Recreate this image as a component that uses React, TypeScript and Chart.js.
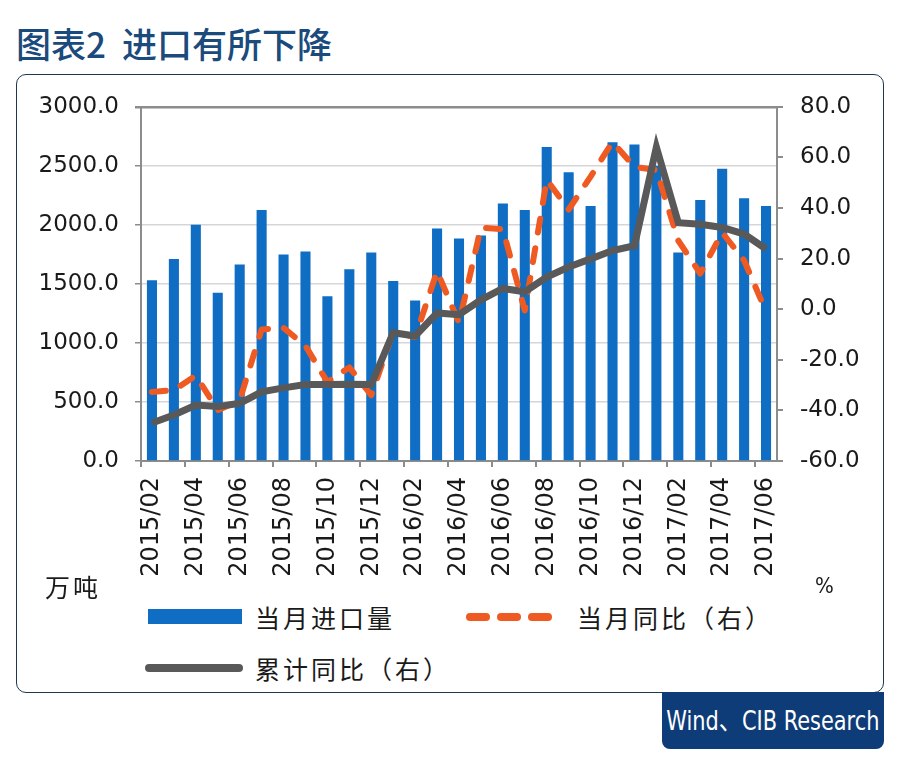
import React, { useEffect, useRef } from "react";
import { Chart, registerables } from "chart.js";

Chart.register(...registerables);

const months = [
  "2015/02", "2015/03", "2015/04", "2015/05", "2015/06", "2015/07", "2015/08", "2015/09", "2015/10", "2015/11", "2015/12",
  "2016/01", "2016/02", "2016/03", "2016/04", "2016/05", "2016/06", "2016/07", "2016/08", "2016/09", "2016/10", "2016/11", "2016/12",
  "2017/01", "2017/02", "2017/03", "2017/04", "2017/05", "2017/06",
];

const monthlyImports = [
  1530, 1710, 2000, 1425, 1665, 2125, 1750, 1775, 1395, 1625, 1765,
  1525, 1360, 1970, 1885, 1910, 2180, 2125, 2660, 2445, 2160, 2700, 2680,
  2500, 1765, 2210, 2475, 2225, 2160,
];

const monthlyYoY = [
  -32.7, -32, -26.2, -39.9, -36, -8, -7.4, -14.5, -28.8, -23, -34,
  -9, -11, 15, -5.4, 32.3, 31.6, -0.5, 51.1, 39.4, 52.4, 66.1, 56.3,
  55, 27.1, 14.1, 30.3, 19.3, -0.9,
];

const cumulativeYoY = [
  -45, -41.8, -37.9, -38.5, -37.2, -32.7, -31.1, -29.8, -29.8, -29.7, -29.8,
  -9.3, -10.6, -1.5, -2.2, 3.7, 8.2, 6.9, 12.7, 16.7, 19.9, 23.2, 25.1,
  64.1, 34.2, 33.6, 32.3, 29.7, 23.8,
];

const seriesNames = ["当月进口量", "当月同比（右）", "累计同比（右）"];

const BAR = "#0f6ec4";
const ORANGE = "#ef5a22";
const GRAY = "#595959";
const AXIS = "#8c8c8c";
const YFONT = { family: "'DejaVu Sans', 'Liberation Sans', sans-serif", size: 23 };
const XFONT = { family: "'DejaVu Sans', 'Liberation Sans', sans-serif", size: 24 };

function ChartCanvas() {
  const ref = useRef<HTMLCanvasElement | null>(null);
  useEffect(() => {
    if (!ref.current) return;
    const chart = new Chart(ref.current, {
      type: "bar",
      data: {
        labels: months,
        datasets: [
          {
            type: "line",
            label: seriesNames[2],
            data: cumulativeYoY,
            yAxisID: "y1",
            borderColor: GRAY,
            borderWidth: 7,
            pointRadius: 0,
            tension: 0,
            borderJoinStyle: "miter",
            order: 0,
          } as any,
          {
            type: "line",
            label: seriesNames[1],
            data: monthlyYoY,
            yAxisID: "y1",
            borderColor: ORANGE,
            borderWidth: 6,
            borderDash: [14, 16],
            borderCapStyle: "round",
            borderJoinStyle: "round",
            pointRadius: 0,
            tension: 0,
            order: 1,
          } as any,
          {
            type: "bar",
            label: seriesNames[0],
            data: monthlyImports,
            yAxisID: "y",
            backgroundColor: BAR,
            categoryPercentage: 1,
            barPercentage: 0.46,
            order: 2,
          } as any,
        ],
      },
      options: {
        responsive: false,
        animation: false,
        layout: { padding: { top: 25, left: 0, right: 0, bottom: 0 } },
        plugins: { legend: { display: false }, tooltip: { enabled: false } },
        scales: {
          x: {
            grid: {
              display: true,
              drawOnChartArea: false,
              offset: true,
              drawTicks: true,
              tickLength: 6,
              lineWidth: 2,
              tickColor: (ctx: any) => (ctx.index % 2 === 0 ? AXIS : "rgba(0,0,0,0)"),
              color: (ctx: any) => (ctx.index % 2 === 0 ? AXIS : "rgba(0,0,0,0)"),
            },
            border: { display: true, color: AXIS, width: 2 },
            ticks: {
              autoSkip: false,
              maxRotation: 90,
              minRotation: 90,
              padding: 10,
              color: "#1a1a1a",
              font: XFONT,
              callback: (_v: any, i: number) => (i % 2 === 0 ? months[i] : ""),
            },
            afterFit: (s: any) => {
              s.height = 135;
            },
          },
          y: {
            position: "left",
            min: 0,
            max: 3000,
            grid: {
              color: (ctx: any) => (ctx.tick && ctx.tick.value === 3000 ? AXIS : "#d6d6d6"),
              lineWidth: (ctx: any) => (ctx.tick && ctx.tick.value === 3000 ? 2.5 : 1.5),
              tickColor: AXIS,
              tickLength: 6,
            },
            border: { display: true, color: AXIS, width: 2 },
            ticks: {
              stepSize: 500,
              padding: 16,
              color: "#1a1a1a",
              font: YFONT,
              callback: (v: any) => Number(v).toFixed(1),
            },
            afterFit: (s: any) => {
              s.width = 124;
            },
          },
          y1: {
            position: "right",
            min: -60,
            max: 80,
            grid: {
              drawOnChartArea: false,
              tickColor: AXIS,
              tickLength: 6,
              lineWidth: 2,
            },
            border: { display: true, color: AXIS, width: 2 },
            ticks: {
              stepSize: 20,
              padding: 17,
              color: "#1a1a1a",
              font: YFONT,
              callback: (v: any) => Number(v).toFixed(1),
            },
            afterFit: (s: any) => {
              s.width = 107;
            },
          },
        },
      } as any,
    });
    return () => chart.destroy();
  }, []);
  return <canvas ref={ref} width={867} height={520} style={{ width: 867, height: 520, display: "block" }} />;
}

const cjk = "'Noto Sans CJK SC', 'Noto Sans', sans-serif";

export default function App() {
  const abs = (s: React.CSSProperties): React.CSSProperties => ({ position: "absolute", ...s });
  const legendText: React.CSSProperties = {
    fontFamily: cjk,
    fontSize: 25,
    letterSpacing: 3,
    color: "#1a1a1a",
    lineHeight: "30px",
    whiteSpace: "nowrap",
  };
  return (
    <div style={{ position: "absolute", left: 0, top: 0, width: 900, height: 762, background: "#fff", overflow: "hidden" }}>
      <div
        style={abs({
          left: 16,
          top: 23,
          fontFamily: cjk,
          fontSize: 35,
          fontWeight: 500,
          color: "#1b4a7c",
          lineHeight: "40px",
          whiteSpace: "nowrap",
        })}
      >
        <span>图表2</span>
        <span style={{ marginLeft: 16 }}>进口有所下降</span>
      </div>
      <div
        style={abs({
          left: 16,
          top: 74,
          width: 866,
          height: 617,
          border: "1.5px solid #1e3850",
          borderRadius: 10,
        })}
      />
      <div style={abs({ left: 17, top: 76 })}>
        <ChartCanvas />
      </div>
      <div style={abs({ ...legendText, left: 45, top: 571 })}>万吨</div>
      <div style={abs({ ...legendText, left: 815, top: 571, fontFamily: "'Liberation Sans Narrow', 'DejaVu Sans Condensed', sans-serif", fontSize: 22, letterSpacing: 0 })}>%</div>

      <div style={abs({ left: 148, top: 609, width: 94, height: 15, background: BAR })} />
      <div style={abs({ ...legendText, left: 255, top: 602 })}>{seriesNames[0]}</div>

      {[0, 1, 2].map((i) => (
        <div key={i} style={abs({ left: 466 + i * 31, top: 613, width: 24, height: 8, borderRadius: 4, background: ORANGE })} />
      ))}
      <div style={abs({ ...legendText, left: 577, top: 602 })}>{seriesNames[1]}</div>

      <div style={abs({ left: 145, top: 664, width: 98, height: 8, borderRadius: 4, background: GRAY })} />
      <div style={abs({ ...legendText, left: 255, top: 653 })}>{seriesNames[2]}</div>

      <div
        style={abs({
          left: 662,
          top: 692,
          width: 222,
          height: 57,
          background: "#0d3c78",
          borderRadius: "0 0 8px 8px",
          color: "#fff",
          fontFamily: "'Liberation Sans Narrow', 'DejaVu Sans Condensed', 'Noto Sans CJK SC', sans-serif",
          fontSize: 27,
          lineHeight: "57px",
          display: "flex",
          justifyContent: "center",
          whiteSpace: "nowrap",
        })}
      >
        <span style={{ display: "inline-block", flexShrink: 0, transform: "scaleX(0.86)", transformOrigin: "center" }}>Wind、CIB Research</span>
      </div>
    </div>
  );
}
